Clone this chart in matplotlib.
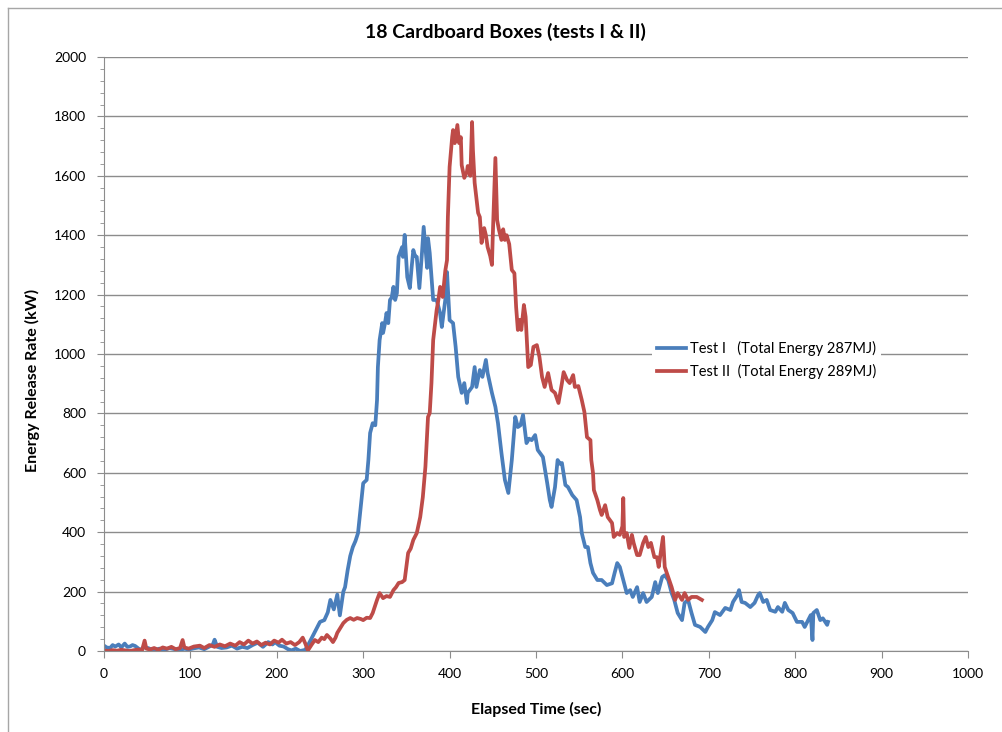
import numpy as np
import matplotlib.pyplot as plt
from matplotlib.lines import Line2D

plt.rcParams['font.family'] = ['Lato', 'DejaVu Sans']

# Test I (blue) - elapsed time (sec) and energy release rate (kW)
t1 = [0, 3, 7, 10, 13, 17, 20, 24, 27, 30,
      33, 36, 40, 42, 46, 51, 55, 59, 64, 70,
      76, 82, 88, 93, 98, 104, 110, 116, 122, 126,
      128, 131, 136, 142, 148, 154, 160, 166, 172, 178,
      184, 190, 195, 198, 203, 208, 213, 217, 222, 227,
      233, 238, 244, 250, 255, 259, 262, 266, 270, 273,
      277, 279, 282, 285, 288, 291, 294, 298, 300, 304,
      306, 308, 311, 314, 316, 317, 319, 322, 323, 325,
      327, 329, 331, 333, 335, 337, 339, 341, 345, 346,
      348, 351, 354, 356, 358, 360, 362, 365, 368, 370,
      374, 375, 377, 381, 385, 389, 391, 395, 397, 400,
      404, 407, 410, 414, 417, 420, 421, 426, 429, 431,
      435, 438, 442, 444, 449, 453, 456, 460, 464, 468,
      472, 476, 479, 482, 485, 489, 492, 495, 499, 502,
      508, 513, 516, 518, 522, 525, 528, 530, 534, 537,
      542, 547, 551, 553, 557, 560, 563, 566, 571, 576,
      582, 588, 591, 594, 597, 601, 605, 609, 612, 617,
      620, 624, 628, 634, 638, 641, 646, 649, 653, 657,
      660, 664, 669, 672, 676, 680, 684, 690, 696, 699,
      704, 707, 713, 719, 725, 728, 733, 735, 738, 742,
      748, 753, 757, 759, 763, 767, 771, 777, 780, 785,
      788, 792, 797, 802, 808, 811, 815, 818, 820, 821,
      825, 829, 832, 837, 838]
e1 = [18, 12, 10, 20, 15, 22, 12, 25, 14, 15,
      20, 17, 8, 3, 12, 10, 5, 3, 8, 4,
      10, 6, 3, 8, 5, 9, 12, 6, 15, 22,
      38, 14, 10, 12, 18, 8, 14, 10, 20, 28,
      14, 30, 22, 30, 18, 15, 6, 2, 8, 0,
      4, 30, 64, 98, 104, 130, 172, 140, 190, 120,
      200, 215, 272, 320, 350, 370, 397, 508, 565, 576,
      643, 734, 767, 760, 845, 956, 1047, 1104, 1071, 1100,
      1138, 1104, 1182, 1190, 1226, 1182, 1205, 1327, 1360, 1327,
      1401, 1259, 1222, 1290, 1350, 1330, 1327, 1222, 1340, 1428,
      1290, 1390, 1340, 1182, 1182, 1138, 1091, 1182, 1276, 1114,
      1104, 1024, 923, 869, 902, 835, 869, 889, 956, 889,
      946, 923, 980, 936, 869, 822, 767, 667, 576, 532,
      643, 788, 754, 760, 795, 700, 715, 710, 727, 677,
      653, 565, 508, 485, 552, 643, 630, 633, 559, 552,
      525, 508, 451, 397, 350, 350, 296, 263, 239, 239,
      222, 228, 263, 296, 283, 239, 195, 205, 182, 215,
      165, 195, 165, 182, 232, 195, 249, 255, 239, 195,
      172, 128, 104, 162, 172, 128, 88, 81, 64, 81,
      104, 131, 121, 145, 138, 165, 188, 205, 165, 162,
      148, 162, 188, 195, 165, 172, 138, 132, 148, 132,
      162, 138, 128, 98, 98, 81, 104, 121, 37, 128,
      138, 104, 110, 88, 98]

# Test II (red)
t2 = [0, 5, 10, 15, 20, 25, 30, 35, 40, 44,
      47, 49, 53, 58, 63, 68, 73, 78, 83, 88,
      91, 93, 98, 104, 111, 116, 122, 128, 134, 140,
      146, 152, 157, 162, 167, 172, 177, 182, 187, 192,
      197, 202, 206, 211, 216, 221, 226, 230, 233, 236,
      240, 244, 248, 252, 255, 258, 262, 265, 268, 270,
      274, 277, 281, 285, 289, 293, 297, 300, 304, 308,
      311, 316, 319, 323, 327, 331, 335, 338, 341, 345,
      348, 352, 355, 358, 362, 366, 369, 372, 375, 377,
      379, 381, 385, 387, 389, 392, 395, 397, 398, 400,
      403, 404, 406, 409, 411, 413, 414, 417, 420, 421,
      424, 426, 427, 429, 431, 433, 435, 437, 440, 442,
      444, 447, 449, 450, 453, 455, 457, 460, 462, 464,
      466, 469, 472, 475, 477, 479, 481, 483, 486, 488,
      491, 494, 497, 501, 504, 507, 510, 514, 518, 522,
      526, 530, 532, 536, 539, 543, 545, 549, 553, 556,
      559, 563, 564, 566, 567, 571, 574, 576, 580, 583,
      588, 590, 594, 597, 600, 601, 602, 605, 608, 611,
      613, 617, 620, 624, 627, 630, 633, 637, 640, 642,
      647, 649, 653, 657, 661, 664, 669, 672, 676, 680,
      686, 692]
e2 = [2, 0, 3, 1, 4, 2, 0, 3, 5, 2,
      35, 8, 5, 10, 4, 12, 8, 14, 6, 10,
      37, 12, 8, 15, 18, 10, 20, 14, 22, 16,
      25, 18, 30, 22, 35, 25, 32, 20, 28, 22,
      35, 28, 38, 25, 30, 20, 30, 45, 25, 2,
      20, 37, 30, 45, 40, 54, 42, 30, 45, 61,
      80, 94, 105, 111, 105, 111, 108, 104, 112, 111,
      128, 172, 195, 178, 185, 182, 205, 215, 229, 232,
      239, 330, 345, 374, 397, 451, 518, 620, 788, 801,
      902, 1047, 1148, 1182, 1226, 1192, 1280, 1316, 1461, 1630,
      1731, 1754, 1710, 1771, 1710, 1730, 1636, 1593, 1613, 1633,
      1600, 1781, 1687, 1576, 1525, 1475, 1461, 1374, 1424, 1400,
      1360, 1330, 1300, 1400, 1660, 1451, 1420, 1384, 1420, 1384,
      1400, 1370, 1283, 1272, 1158, 1081, 1115, 1081, 1165, 1125,
      956, 963, 1024, 1030, 990, 923, 889, 936, 879, 869,
      835, 902, 939, 912, 902, 929, 889, 892, 845, 805,
      720, 710, 643, 599, 542, 508, 475, 458, 491, 451,
      431, 384, 397, 391, 420, 515, 384, 397, 347, 391,
      364, 323, 323, 364, 384, 350, 364, 316, 316, 283,
      384, 283, 249, 215, 172, 195, 172, 195, 172, 182,
      182, 172]

labels = ["Test I   (Total Energy 287MJ)", "Test II  (Total Energy 289MJ)"]

fig = plt.figure(figsize=(10.02, 7.32), dpi=100)
ax = fig.add_axes([104 / 1002, 81 / 732, 864 / 1002, 594 / 732])

ax.plot(t1, e1, color='#4a7ebb', lw=2.7, label=labels[0], solid_joinstyle='round')
ax.plot(t2, e2, color='#be4b48', lw=2.7, label=labels[1], solid_joinstyle='round')

ax.set_xlim(0, 1000)
ax.set_ylim(0, 2000)
ax.set_xticks(np.arange(0, 1001, 100))
ax.set_yticks(np.arange(0, 2001, 200))
ax.set_yticks(np.arange(0, 2001, 40), minor=True)
ax.grid(axis='y', color='#8c8c8c', lw=1)
ax.set_axisbelow(True)
for s in ['top', 'right']:
    ax.spines[s].set_visible(False)
for s in ['left', 'bottom']:
    ax.spines[s].set_color('#8c8c8c')
ax.tick_params(axis='both', which='major', direction='out', length=5, color='#8c8c8c',
               labelsize=10, labelcolor='black')
ax.tick_params(axis='x', pad=7)
ax.tick_params(axis='y', pad=8)
ax.tick_params(axis='y', which='minor', direction='out', length=3, color='#8c8c8c')

# title is centred on the whole chart area, not the plot area
fig.text(505 / 1002, 1 - 32 / 732, "18 Cardboard Boxes (tests I & II)", fontsize=14,
         fontweight='bold', ha='center', va='center')
ax.set_xlabel("Elapsed Time (sec)", fontsize=11.5, fontweight='bold')
ax.set_ylabel("Energy Release Rate (kW)", fontsize=11.5, fontweight='bold')
ax.xaxis.set_label_coords(0.5, -0.086)
ax.yaxis.set_label_coords(-0.074, 0.456)

leg = ax.legend(loc='upper left', bbox_to_anchor=(645 / 1002, (732 - 329) / 732),
                bbox_transform=fig.transFigure, frameon=True, fontsize=10.5,
                handlelength=2.0, handletextpad=0.3, labelspacing=0.55, borderpad=0.3)
leg.get_frame().set_edgecolor('none')
leg.get_frame().set_facecolor('white')
leg.get_frame().set_alpha(1)

# chart area border
fig.add_artist(Line2D([8 / 1002, 8 / 1002], [0, 1 - 8 / 732], transform=fig.transFigure,
                      color='#a6a6a6', lw=1))
fig.add_artist(Line2D([8 / 1002, 1], [1 - 8 / 732, 1 - 8 / 732], transform=fig.transFigure,
                      color='#a6a6a6', lw=1))

fig.savefig('out.png', dpi=100)
